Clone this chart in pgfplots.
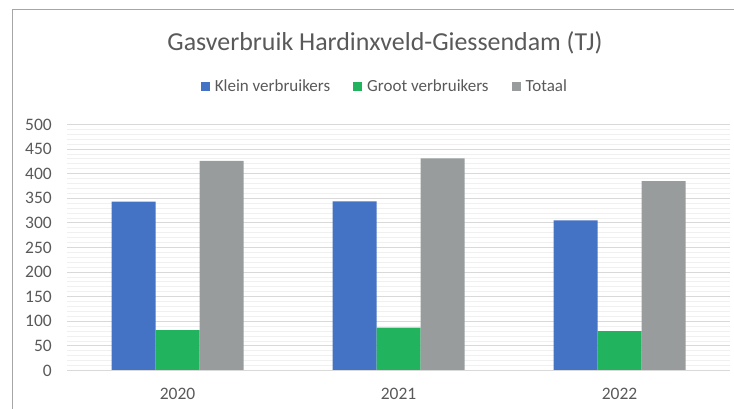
\documentclass[border=0pt]{standalone}
\usepackage{pgfplots}
\pgfplotsset{compat=1.18}
\usepackage{fontspec}
\setmainfont{Carlito}
\definecolor{cblue}{HTML}{4472C4}
\definecolor{cgreen}{HTML}{22B35E}
\definecolor{cgray}{HTML}{989C9C}
\definecolor{textgray}{HTML}{595959}
\definecolor{framegray}{HTML}{A6A6A6}
\definecolor{majgrid}{HTML}{D9D9D9}
\definecolor{mingrid}{HTML}{F0F0F0}
\begin{document}
\begin{tikzpicture}[x=1pt,y=1pt]
\path[use as bounding box] (0,0) rectangle (734,409);
\draw[color=framegray, line width=1pt] (12.5,0) -- (12.5,399.5) -- (734,399.5);
\node[text=textgray, font=\fontsize{25.9}{30}\selectfont, inner sep=0pt] at (385,366) {Gasverbruik Hardinxveld-Giessendam (TJ)};
\begin{axis}[
  at={(67pt,38.5pt)}, anchor=south west,
  width=663pt, height=246pt, scale only axis,
  xmin=-0.5, xmax=2.5, ymin=0, ymax=500,
  ytick={0,50,...,500}, minor y tick num=4,
  ymajorgrids, yminorgrids,
  major grid style={color=majgrid, line width=0.9pt},
  minor grid style={color=mingrid, line width=0.9pt},
  xtick={0,1,2}, xticklabels={2020,2021,2022},
  axis line style={draw=none},
  tick style={draw=none},
  major tick length=0pt, minor tick length=0pt,
  /pgf/number format/assume math mode=true,
  tick label style={font=\fontsize{17.5}{20}\selectfont, text=textgray},
  yticklabel style={anchor=east, inner sep=0pt, xshift=-15pt},
  xticklabel style={anchor=north, inner sep=0pt, yshift=-17pt},
  ybar=0pt, bar width=44pt,
  legend columns=3,
  legend style={draw=none, fill=none, at={(0.4795,1.154)}, anchor=center,
    font=\fontsize{17}{20}\selectfont, text=textgray,
    /tikz/every odd column/.append style={column sep=3pt},
    /tikz/every even column/.append style={column sep=21pt}},
  legend image code/.code={\fill[#1] (0pt,-4.5pt) rectangle (9pt,4.5pt);},
]
\addplot[fill=cblue, draw=none] coordinates {(0,343) (1,344) (2,305)};
\addplot[fill=cgreen, draw=none] coordinates {(0,82) (1,87) (2,80)};
\addplot[fill=cgray, draw=none] coordinates {(0,426) (1,431) (2,385)};
\legend{Klein verbruikers, Groot verbruikers, Totaal}
\draw[color=majgrid, line width=1pt] (rel axis cs:0,0) -- (rel axis cs:1,0);
\end{axis}
\end{tikzpicture}
\end{document}
